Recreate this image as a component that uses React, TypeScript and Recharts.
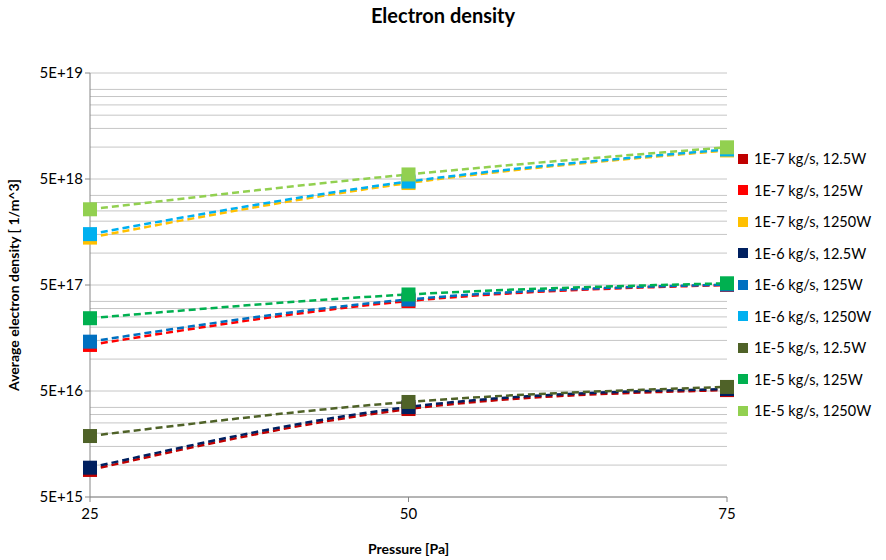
import React from "react";
import { LineChart, Line, XAxis, YAxis, CartesianGrid, Label } from "recharts";

const pressures = [25, 50, 75];

const s1e7_12 = [9.0e15, 3.38e16, 5.1e16];
const s1e7_125 = [1.36e17, 3.53e17, 5.0e17];
const s1e7_1250 = [1.4e18, 4.58e18, 9.3e18];
const s1e6_12 = [9.45e15, 3.53e16, 5.22e16];
const s1e6_125 = [1.46e17, 3.65e17, 5.05e17];
const s1e6_1250 = [1.51e18, 4.73e18, 9.5e18];
const s1e5_12 = [1.88e16, 3.94e16, 5.46e16];
const s1e5_125 = [2.43e17, 4.07e17, 5.19e17];
const s1e5_1250 = [2.59e18, 5.52e18, 9.95e18];

const seriesNames = [
  "1E-7 kg/s, 12.5W",
  "1E-7 kg/s, 125W",
  "1E-7 kg/s, 1250W",
  "1E-6 kg/s, 12.5W",
  "1E-6 kg/s, 125W",
  "1E-6 kg/s, 1250W",
  "1E-5 kg/s, 12.5W",
  "1E-5 kg/s, 125W",
  "1E-5 kg/s, 1250W",
];
const seriesValues = [s1e7_12, s1e7_125, s1e7_1250, s1e6_12, s1e6_125, s1e6_1250, s1e5_12, s1e5_125, s1e5_1250];
const colors = ["#C00000", "#FF0000", "#FFC000", "#002060", "#0070C0", "#00B0F0", "#4F6228", "#00B050", "#92D050"];

const yTicks = [5e15, 5e16, 5e17, 5e18, 5e19];
const yTickLabels = ["5E+15", "5E+16", "5E+17", "5E+18", "5E+19"];
const gridMultipliers = [1, 2, 3, 4, 5, 6, 7, 8, 9];

const gridValues: number[] = [];
yTicks.forEach((t, i) => {
  if (i < yTicks.length - 1) gridMultipliers.forEach((m) => gridValues.push(t * m));
  else gridValues.push(t);
});

const data = pressures.map((p, i) => {
  const row: any = { p };
  seriesValues.forEach((vals, j) => {
    row["s" + j] = vals[i];
  });
  return row;
});

const FONT = "Lato, 'Open Sans', sans-serif";

const SquareDot = (color: string) => (props: any) => {
  const { cx, cy, index } = props;
  if (cx == null || cy == null) return <g key={index} />;
  return <rect key={index} x={cx - 7} y={cy - 7} width={14} height={14} fill={color} />;
};

export default function App() {
  return (
    <div style={{ position: "absolute", left: 0, top: 0, width: 886, height: 560, background: "#fff" }}>
      <div
        style={{
          position: "absolute",
          top: 3,
          left: 0,
          width: 886,
          textAlign: "center",
          fontFamily: FONT,
          fontWeight: "bold",
          fontSize: 20,
        }}
      >
        Electron density
      </div>
      <div style={{ position: "absolute", left: 738, top: 143, width: 148, fontFamily: FONT, fontSize: 14.5, color: "#000" }}>
        {seriesNames.map((n, i) => (
          <div key={n} style={{ display: "flex", alignItems: "center", height: 31.5 }}>
            <span style={{ display: "inline-block", width: 10, height: 10, background: colors[i], marginRight: 6 }} />
            <span>{n}</span>
          </div>
        ))}
      </div>
      <LineChart width={886} height={560} data={data} margin={{ top: 73, right: 159, bottom: 0, left: 0 }}>
        <CartesianGrid horizontalValues={gridValues} vertical={false} stroke="#C6C6C6" strokeWidth={1} />
        <XAxis
          dataKey="p"
          type="number"
          domain={[25, 75]}
          ticks={pressures}
          stroke="#868686"
          tickSize={5}
          tick={{ fill: "#000", fontSize: 15, fontFamily: FONT }}
          tickMargin={6}
          height={63}
        >
          <Label value="Pressure [Pa]" position="insideBottom" offset={6} style={{ fontWeight: "bold", fontSize: 14, fontFamily: FONT, fill: "#000" }} />
        </XAxis>
        <YAxis
          scale="log"
          domain={[5e15, 5e19]}
          ticks={yTicks}
          allowDataOverflow
          tickFormatter={(v: number) => yTickLabels[yTicks.findIndex((t) => Math.abs(t - v) / t < 1e-6)] ?? ""}
          stroke="#868686"
          tickSize={5}
          tick={{ fill: "#000", fontSize: 15, fontFamily: FONT }}
          width={90}
        >
          <Label
            value="Average electron density [ 1/m^3]"
            angle={-90}
            position="insideLeft"
            offset={14}
            style={{ textAnchor: "middle", fontWeight: "bold", fontSize: 14, fontFamily: FONT, fill: "#000" }}
          />
        </YAxis>
        {seriesNames.map((n, i) => (
          <Line
            key={n}
            name={n}
            dataKey={"s" + i}
            type="natural"
            stroke={colors[i]}
            strokeWidth={2.5}
            strokeDasharray="7 4"
            dot={SquareDot(colors[i])}
            activeDot={false}
            isAnimationActive={false}
          />
        ))}
      </LineChart>
    </div>
  );
}
